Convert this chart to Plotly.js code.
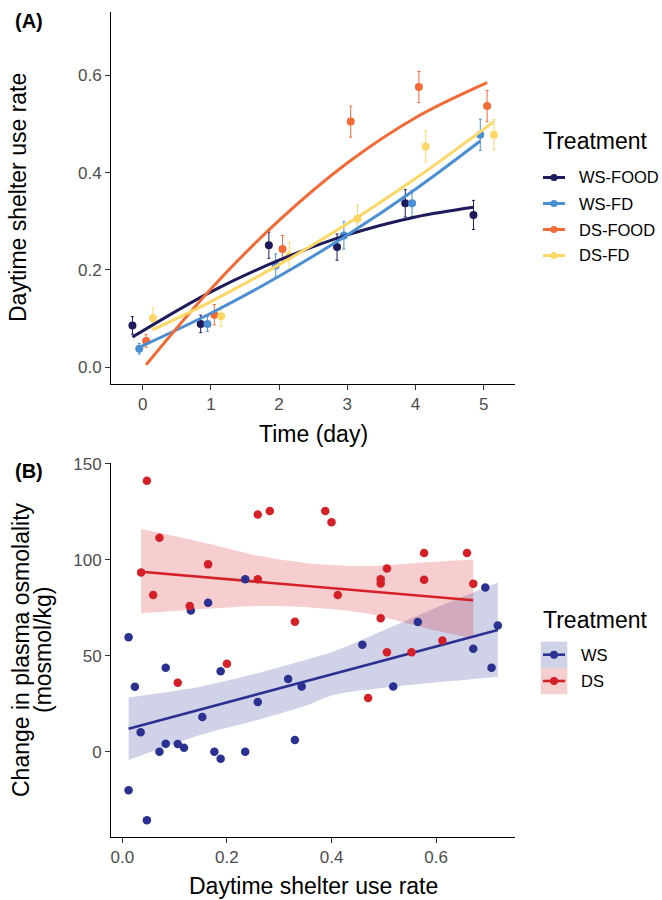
<!DOCTYPE html>
<html>
<head>
<meta charset="utf-8">
<script src="https://cdn.plot.ly/plotly-3.0.1.min.js"></script>
<style>html,body{margin:0;padding:0;background:#fff;}#chart{width:662px;height:900px;}</style>
</head>
<body>
<div id="chart"></div>
<script>
// ---------- Panel A data ----------
const groupsA = ['WS-FOOD', 'WS-FD', 'DS-FOOD', 'DS-FD'];
const days = [0, 1, 2, 3, 4, 5];
const wsFoodMean = [0.086, 0.089, 0.251, 0.247, 0.337, 0.313];
const wsFoodSE   = [0.018, 0.018, 0.027, 0.027, 0.028, 0.030];
const wsFdMean   = [0.038, 0.089, 0.209, 0.271, 0.337, 0.478];
const wsFdSE     = [0.011, 0.015, 0.024, 0.028, 0.027, 0.032];
const dsFoodMean = [0.054, 0.108, 0.243, 0.505, 0.576, 0.537];
const dsFoodSE   = [0.013, 0.021, 0.028, 0.032, 0.032, 0.032];
const dsFdMean   = [0.101, 0.105, 0.229, 0.305, 0.454, 0.478];
const dsFdSE     = [0.021, 0.021, 0.028, 0.029, 0.032, 0.031];
// fitted curves
const wsFoodFitX = [-0.15, 1, 2, 3, 4, 4.85];
const wsFoodFitY = [0.062, 0.155, 0.220, 0.272, 0.309, 0.329];
const wsFdFitX   = [-0.05, 1, 2, 3, 4, 4.95];
const wsFdFitY   = [0.041, 0.111, 0.187, 0.272, 0.366, 0.465];
const dsFoodFitX = [0.05, 1, 2, 3, 4, 5.05];
const dsFoodFitY = [0.005, 0.161, 0.302, 0.420, 0.513, 0.585];
const dsFdFitX   = [0.15, 1, 2, 3, 4, 5.15];
const dsFdFitY   = [0.077, 0.135, 0.211, 0.295, 0.388, 0.505];

// ---------- Panel B data ----------
const groupsB = ['WS', 'DS'];
const wsX = [0.012, 0.131, 0.164, 0.235, 0.694, 0.565, 0.459, 0.718, 0.671, 0.706, 0.343, 0.518, 0.083, 0.188, 0.024, 0.317, 0.259, 0.153, 0.035, 0.330, 0.083, 0.106, 0.118, 0.071, 0.176, 0.188, 0.235, 0.012, 0.047];
const wsY = [59.7, 73.6, 77.6, 89.8, 85.6, 67.6, 55.7, 65.8, 53.6, 43.8, 34.0, 34.0, 43.8, 41.9, 33.9, 37.9, 25.9, 18.1, 10.1, 6.1, 4.2, 4.0, 2.1, 0.0, 0.0, -3.6, 0.0, -20.0, -35.7];
const dsX = [0.047, 0.071, 0.036, 0.059, 0.129, 0.164, 0.259, 0.282, 0.259, 0.330, 0.388, 0.400, 0.577, 0.659, 0.506, 0.494, 0.494, 0.577, 0.671, 0.412, 0.494, 0.612, 0.506, 0.553, 0.470, 0.200, 0.106];
const dsY = [141.1, 111.5, 93.4, 81.6, 75.9, 97.6, 123.6, 125.4, 89.8, 67.7, 125.4, 119.5, 103.5, 103.5, 95.5, 89.9, 87.7, 89.6, 87.5, 81.6, 69.6, 58.0, 51.8, 51.8, 28.0, 45.8, 36.0];
const wsFitX = [0.012, 0.718];
const wsFitY = [12.0, 63.4];
const dsFitX = [0.036, 0.671];
const dsFitY = [93.75, 78.9];
const wsBandX = [0.012, 0.149, 0.257, 0.359, 0.403, 0.531, 0.627, 0.718];
const wsBandHi = [28.3, 33.9, 40.8, 48.6, 52.1, 66.9, 78.1, 88.2];
const wsBandLo = [-4.3, 8.7, 16.5, 24.8, 29.5, 34.2, 36.8, 39.1];
const dsBandX = [0.036, 0.149, 0.263, 0.359, 0.467, 0.595, 0.671];
const dsBandHi = [116.0, 109.4, 101.9, 98.1, 96.7, 99.0, 100.2];
const dsBandLo = [72.1, 74.2, 75.9, 75.2, 72.1, 63.4, 59.1];

// ---------- styles ----------
const W = 662, H = 900;
const FONT = 'Liberation Sans, Arial, Helvetica, sans-serif';
const colorsA = ['#1e1b5c', '#4a8fd3', '#f26a36', '#fdd766'];
const dodgeA = [-0.15, -0.05, 0.05, 0.15];
const colorsB = ['#2b3190', '#d42027'];
const bandB = ['rgba(43,49,144,0.22)', 'rgba(212,32,39,0.22)'];
const bandKeyB = ['#d0d2e7', '#f5cfd0'];

const meansA = [wsFoodMean, wsFdMean, dsFoodMean, dsFdMean];
const seA = [wsFoodSE, wsFdSE, dsFoodSE, dsFdSE];
const fitXA = [wsFoodFitX, wsFdFitX, dsFoodFitX, dsFdFitX];
const fitYA = [wsFoodFitY, wsFdFitY, dsFoodFitY, dsFdFitY];

const traces = [];
// Panel A points with error bars
groupsA.forEach((g, i) => {
  traces.push({
    type: 'scatter', mode: 'markers', name: g, showlegend: false,
    x: days.map(d => d + dodgeA[i]), y: meansA[i],
    xaxis: 'x', yaxis: 'y',
    marker: {color: colorsA[i], size: 8},
    error_y: {type: 'data', array: seA[i], visible: true, color: colorsA[i], thickness: 1, width: 1.5}
  });
});
// Panel A fitted lines
groupsA.forEach((g, i) => {
  traces.push({
    type: 'scatter', mode: 'lines', name: g + ' fit', showlegend: false,
    x: fitXA[i], y: fitYA[i], xaxis: 'x', yaxis: 'y',
    line: {color: colorsA[i], width: 3, shape: 'spline', smoothing: 1}
  });
});

// Panel B bands (lower edge, then upper edge filled to it)
const bandsX = [wsBandX, dsBandX], bandsHi = [wsBandHi, dsBandHi], bandsLo = [wsBandLo, dsBandLo];
groupsB.forEach((g, i) => {
  traces.push({
    type: 'scatter', mode: 'lines', name: g + ' CI low', showlegend: false,
    x: bandsX[i], y: bandsLo[i], xaxis: 'x2', yaxis: 'y2',
    line: {width: 0, color: 'rgba(0,0,0,0)', shape: 'spline', smoothing: 0.8}, hoverinfo: 'skip'
  });
  traces.push({
    type: 'scatter', mode: 'lines', name: g + ' CI', showlegend: false,
    x: bandsX[i], y: bandsHi[i], xaxis: 'x2', yaxis: 'y2',
    fill: 'tonexty', fillcolor: bandB[i],
    line: {width: 0, color: 'rgba(0,0,0,0)', shape: 'spline', smoothing: 0.8}, hoverinfo: 'skip'
  });
});
const fitsX = [wsFitX, dsFitX], fitsY = [wsFitY, dsFitY];
groupsB.forEach((g, i) => {
  traces.push({
    type: 'scatter', mode: 'lines', name: g + ' fit', showlegend: false,
    x: fitsX[i], y: fitsY[i], xaxis: 'x2', yaxis: 'y2',
    line: {color: colorsB[i], width: 2.6}
  });
});
const ptsX = [wsX, dsX], ptsY = [wsY, dsY];
groupsB.forEach((g, i) => {
  traces.push({
    type: 'scatter', mode: 'markers', name: g, showlegend: false,
    x: ptsX[i], y: ptsY[i], xaxis: 'x2', yaxis: 'y2',
    marker: {color: colorsB[i], size: 8.5}
  });
});

// ---------- layout helpers ----------
const px = x => x / W;
const py = y => 1 - y / H;
const xDom = [px(110.7), px(515)];

const axisBase = {
  showgrid: false, zeroline: false, showline: true, linecolor: '#000', linewidth: 1.1,
  ticks: 'outside', ticklen: 4.5, tickwidth: 1, tickcolor: '#333',
  tickfont: {family: FONT, size: 17, color: '#4d4d4d'}, automargin: false, fixedrange: true
};

const shapes = [];
const annotations = [];

// Panel labels
annotations.push({text: '<b>(A)</b>', x: px(29), y: py(21), xref: 'paper', yref: 'paper', showarrow: false, xanchor: 'center', yanchor: 'middle', font: {family: FONT, size: 20, color: '#000'}});
annotations.push({text: '<b>(B)</b>', x: px(29), y: py(471), xref: 'paper', yref: 'paper', showarrow: false, xanchor: 'center', yanchor: 'middle', font: {family: FONT, size: 20, color: '#000'}});
// Axis titles
const titleFont = {family: FONT, size: 23, color: '#000'};
annotations.push({text: 'Time (day)', x: px(313), y: py(434), xref: 'paper', yref: 'paper', showarrow: false, xanchor: 'center', yanchor: 'middle', font: titleFont});
annotations.push({text: 'Daytime shelter use rate', x: px(18), y: py(198), xref: 'paper', yref: 'paper', showarrow: false, textangle: -90, xanchor: 'center', yanchor: 'middle', font: titleFont});
annotations.push({text: 'Daytime shelter use rate', x: px(313), y: py(886), xref: 'paper', yref: 'paper', showarrow: false, xanchor: 'center', yanchor: 'middle', font: titleFont});
annotations.push({text: 'Change in plasma osmolality', x: px(21), y: py(650), xref: 'paper', yref: 'paper', showarrow: false, textangle: -90, xanchor: 'center', yanchor: 'middle', font: titleFont});
annotations.push({text: '(mosmol/kg)', x: px(43), y: py(650), xref: 'paper', yref: 'paper', showarrow: false, textangle: -90, xanchor: 'center', yanchor: 'middle', font: titleFont});

// Legend A
const legFont = {family: FONT, size: 16.5, color: '#000'};
annotations.push({text: 'Treatment', x: px(541), y: py(141), xref: 'paper', yref: 'paper', showarrow: false, xanchor: 'left', yanchor: 'middle', font: {family: FONT, size: 23, color: '#000'}});
groupsA.forEach((g, i) => {
  const yy = 177.5 + i * 26;
  shapes.push({type: 'line', xref: 'paper', yref: 'paper', x0: px(543), x1: px(565), y0: py(yy), y1: py(yy), line: {color: colorsA[i], width: 3}});
  shapes.push({type: 'circle', xref: 'paper', yref: 'paper', x0: px(554 - 3.6), x1: px(554 + 3.6), y0: py(yy - 3.6), y1: py(yy + 3.6), fillcolor: colorsA[i], line: {width: 0}});
  annotations.push({text: g, x: px(577), y: py(yy), xref: 'paper', yref: 'paper', showarrow: false, xanchor: 'left', yanchor: 'middle', font: legFont});
});
// Legend B
annotations.push({text: 'Treatment', x: px(541), y: py(620), xref: 'paper', yref: 'paper', showarrow: false, xanchor: 'left', yanchor: 'middle', font: {family: FONT, size: 23, color: '#000'}});
groupsB.forEach((g, i) => {
  const top = 641.7 + i * 26.3, yy = top + 13;
  shapes.push({type: 'rect', xref: 'paper', yref: 'paper', x0: px(540.7), x1: px(567.3), y0: py(top), y1: py(top + 26.3), fillcolor: bandKeyB[i], line: {width: 0}, layer: 'below'});
  shapes.push({type: 'line', xref: 'paper', yref: 'paper', x0: px(543), x1: px(565), y0: py(yy), y1: py(yy), line: {color: colorsB[i], width: 2.6}});
  shapes.push({type: 'circle', xref: 'paper', yref: 'paper', x0: px(554 - 4), x1: px(554 + 4), y0: py(yy - 4), y1: py(yy + 4), fillcolor: colorsB[i], line: {width: 0}});
  annotations.push({text: g, x: px(579), y: py(yy), xref: 'paper', yref: 'paper', showarrow: false, xanchor: 'left', yanchor: 'middle', font: legFont});
});

const layout = {
  width: W, height: H,
  margin: {l: 0, r: 0, t: 0, b: 0, pad: 0},
  paper_bgcolor: '#fff', plot_bgcolor: 'rgba(0,0,0,0)',
  showlegend: false,
  font: {family: FONT},
  xaxis: Object.assign({}, axisBase, {domain: xDom, range: [-0.469, 5.459], tickvals: [0, 1, 2, 3, 4, 5], anchor: 'y'}),
  yaxis: Object.assign({}, axisBase, {domain: [py(384), py(12)], range: [-0.0345, 0.7303], tickvals: [0, 0.2, 0.4, 0.6], tickformat: '.1f', anchor: 'x'}),
  xaxis2: Object.assign({}, axisBase, {domain: xDom, range: [-0.0222, 0.7508], tickvals: [0, 0.2, 0.4, 0.6], tickformat: '.1f', anchor: 'y2'}),
  yaxis2: Object.assign({}, axisBase, {domain: [py(837), py(463)], range: [-44.4, 150.4], tickvals: [0, 50, 100, 150], anchor: 'x2'}),
  shapes: shapes,
  annotations: annotations
};

Plotly.newPlot('chart', traces, layout, {staticPlot: true, displayModeBar: false});
</script>
</body>
</html>
